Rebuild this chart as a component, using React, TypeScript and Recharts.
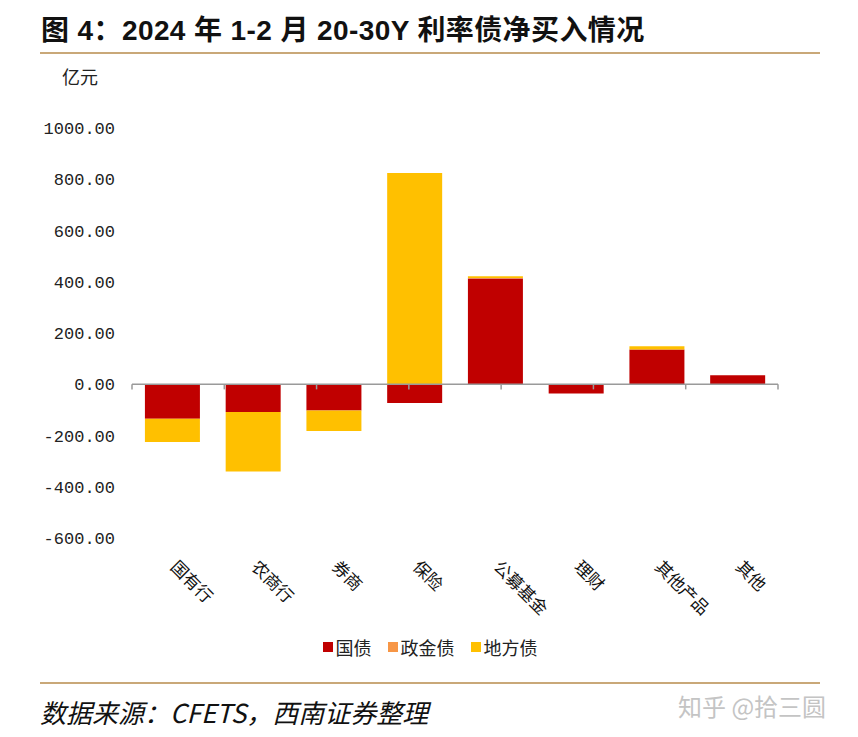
import { BarChart, Bar, XAxis, YAxis, ReferenceLine, Legend } from "recharts";

const categories = ["国有行", "农商行", "券商", "保险", "公募基金", "理财", "其他产品", "其他"];
const guozhai = [-135, -108, -102, -73, 413, -36, 136, 35];
const zhengjinzhai = [0, 0, 0, 0, 2, 0, 0, 0];
const difangzhai = [-90, -232, -80, 824, 6, 0, 12, 0];
const yTicks = [-600, -400, -200, 0, 200, 400, 600, 800, 1000];
const boundaries = [0, 1, 2, 3, 4, 5, 6, 7, 8];

const SERIES = [
  { key: "guozhai", name: "国债", color: "#C00000" },
  { key: "zhengjinzhai", name: "政金债", color: "#F79646" },
  { key: "difangzhai", name: "地方债", color: "#FFC000" },
];

const data = categories.map((name, i) => ({
  name,
  guozhai: guozhai[i],
  zhengjinzhai: zhengjinzhai[i],
  difangzhai: difangzhai[i],
}));

const CJK = "'Noto Sans CJK SC', 'Noto Sans', sans-serif";

function CatTick({ x, y, payload }: any) {
  return (
    <g transform={`translate(${x - 3},${y + 22})`}>
      <text transform="rotate(45)" textAnchor="start" fontSize={17} fill="#111" fontFamily={CJK}>
        {payload.value}
      </text>
    </g>
  );
}

function LegendBox() {
  return (
    <div style={{ display: "flex", justifyContent: "center", gap: 16, fontFamily: CJK, fontSize: 18, color: "#222" }}>
      {SERIES.map((s) => (
        <div key={s.key} style={{ display: "flex", alignItems: "center", gap: 3 }}>
          <span style={{ width: 10, height: 10, background: s.color, display: "inline-block" }} />
          <span>{s.name}</span>
        </div>
      ))}
    </div>
  );
}

export default function App() {
  return (
    <div style={{ position: "fixed", left: 0, top: 0, width: 858, height: 737, background: "#fff", overflow: "hidden" }}>
      <div style={{ position: "absolute", left: 41, top: 8, fontFamily: "'Liberation Sans Narrow', 'Liberation Sans', " + CJK, fontWeight: 700, fontSize: 28, color: "#111", whiteSpace: "nowrap", letterSpacing: 0.4 }}>
        图 4：2024 年 1-2 月 20-30Y 利率债净买入情况
      </div>
      <div style={{ position: "absolute", left: 40, top: 52, width: 780, height: 2, background: "#C9A878" }} />
      <div style={{ position: "absolute", left: 62, top: 63, fontFamily: CJK, fontSize: 18, color: "#222" }}>亿元</div>

      <BarChart
        width={858}
        height={737}
        data={data}
        stackOffset="sign"
        barCategoryGap="16%"
        margin={{ top: 128, right: 80, left: 40, bottom: 93 }}
      >
        <XAxis dataKey="name" axisLine={false} tickLine={false} height={80} interval={0} tick={<CatTick />} />
        <XAxis xAxisId="n" type="number" domain={[0, 8]} hide />
        <YAxis
          width={92}
          domain={[-600, 1000]}
          ticks={yTicks}
          axisLine={false}
          tickLine={false}
          tickSize={0}
          tickMargin={17}
          tickFormatter={(v: number) => v.toFixed(2)}
          tick={{ fill: "#222", fontSize: 17, fontFamily: "'Liberation Mono', monospace" }}
        />
        {SERIES.map((s) => (
          <Bar key={s.key} dataKey={s.key} name={s.name} stackId="a" fill={s.color} isAnimationActive={false} />
        ))}
        <ReferenceLine y={0} stroke="#9a9a9a" strokeWidth={1.5} />
        {boundaries.map((b) => (
          <ReferenceLine
            key={b}
            xAxisId="n"
            segment={[{ x: b, y: 0 }, { x: b, y: -20 }]}
            stroke="#9a9a9a"
            strokeWidth={1.5}
          />
        ))}
        <Legend content={<LegendBox />} wrapperStyle={{ left: 0, width: 860, top: 634 }} />
      </BarChart>

      <div style={{ position: "absolute", left: 40, top: 682, width: 780, height: 2, background: "#C9A878" }} />
      <div style={{ position: "absolute", left: 40, top: 693, fontFamily: CJK, fontStyle: "italic", fontSize: 26, color: "#111", whiteSpace: "nowrap" }}>
        数据来源：CFETS，西南证券整理
      </div>
      <div style={{ position: "absolute", left: 678, top: 688, fontFamily: CJK, fontSize: 24, color: "#c4c4c4", whiteSpace: "nowrap" }}>
        知乎 @拾三圆
      </div>
    </div>
  );
}
